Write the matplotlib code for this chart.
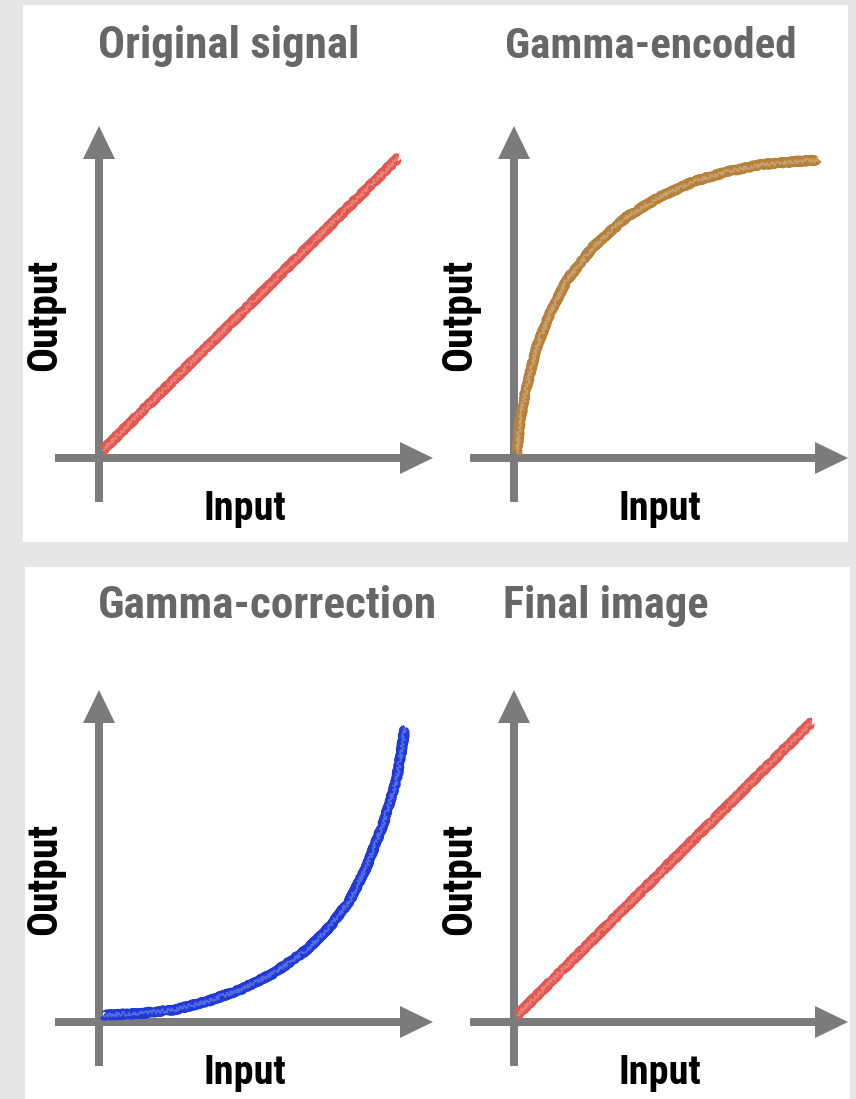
import matplotlib
matplotlib.use("Agg")
import matplotlib.pyplot as plt
from matplotlib.patches import Rectangle
from matplotlib import font_manager

# ---- data (normalised: origin at the arrow crossing, 1.0 = full scale) ----
titles = ["Original signal", "Gamma-encoded", "Gamma-correction", "Final image"]
x_label = "Input"
y_label = "Output"

original_x = [0.013, 0.997]
original_y = [0.027, 1.000]

encoded_x = [0.009, 0.020, 0.042, 0.076, 0.120, 0.176, 0.264, 0.376,
             0.487, 0.598, 0.709, 0.820, 0.931, 1.014]
encoded_y = [0.016, 0.127, 0.238, 0.371, 0.482, 0.593, 0.704, 0.804,
             0.871, 0.921, 0.954, 0.977, 0.988, 0.993]

correction_x = [0.014, 0.137, 0.248, 0.359, 0.470, 0.581, 0.692, 0.770,
                0.837, 0.892, 0.948, 0.992, 1.020]
correction_y = [0.023, 0.029, 0.040, 0.068, 0.107, 0.162, 0.240, 0.318,
                0.407, 0.518, 0.662, 0.807, 0.979]

final_x = [0.010, 0.993]
final_y = [0.023, 1.000]

series = [(original_x, original_y, "#e2574f"),
          (encoded_x, encoded_y, "#b5813c"),
          (correction_x, correction_y, "#1f3ad6"),
          (final_x, final_y, "#e2574f")]

# ---- layout (pixels) ----
W, H = 856, 1099
DPI = 100
UNIT = 300.0                      # pixels per data unit
origins = [(99, 458), (514, 458), (99, 1022), (514, 1022)]
# title: left edge, baseline, target width
title_box = [(98, 58, 262), (505, 58, 292), (98, 618, 339), (503, 618, 205)]

BG = "#e6e6e6"
ARROW = "#7b7b7b"
TITLE_C = "#676767"

# prefer a narrow face when one is installed
installed = {(f.name, f.stretch) for f in font_manager.fontManager.ttflist}
names = {n for n, _ in installed}
FONT = ["DejaVu Sans"]
STRETCH = "normal"
for cand in ["Liberation Sans Narrow", "Roboto Condensed", "Open Sans Condensed",
             "Noto Sans Condensed", "DejaVu Sans Condensed"]:
    if cand in names:
        FONT = [cand, "DejaVu Sans"]
        break
else:
    if any(n == "DejaVu Sans" and s in ("condensed", "semi-condensed", 600, 500)
           for n, s in installed):
        STRETCH = "condensed"

fig = plt.figure(figsize=(W / DPI, H / DPI), dpi=DPI, facecolor=BG)
renderer = fig.canvas.get_renderer()


def fx(px):
    return px / W


def fy(py):
    return 1 - py / H


def fitted_text(x, y, s, target_w, max_pt, **kw):
    """Place text, shrinking it so its width does not exceed target_w pixels."""
    t = fig.text(x, y, s, fontsize=max_pt, family=FONT, fontstretch=STRETCH,
                 fontweight="bold", **kw)
    bb = t.get_window_extent(renderer)
    w = bb.height if kw.get("rotation") == 90 else bb.width
    if w > target_w:
        t.set_fontsize(max_pt * target_w / w)
    return t


# white card behind each row of charts
for (x0, y0, x1, y1) in [(23, 5, 848, 542), (25, 567, 850, H + 2)]:
    fig.add_artist(Rectangle((fx(x0), fy(y1)), fx(x1 - x0), (y1 - y0) / H,
                             transform=fig.transFigure, facecolor="white",
                             edgecolor="none", zorder=-10))

pad_l, pad_r = 60, 340
for (ox, oy), (xs, ys, col), title, (tx, ty, tw) in zip(origins, series, titles, title_box):
    ax = fig.add_axes([fx(ox - pad_l), fy(oy + pad_l),
                       (pad_l + pad_r) / W, (pad_l + pad_r) / H])
    ax.set_xlim(-pad_l / UNIT, pad_r / UNIT)
    ax.set_ylim(-pad_l / UNIT, pad_r / UNIT)
    ax.axis("off")

    # axes drawn as thick arrows
    shaft, hw, hl = 8 / UNIT, 32 / UNIT, 33 / UNIT
    ax.arrow(-44 / UNIT, 0, (44 + 334) / UNIT, 0, width=shaft, head_width=hw,
             head_length=hl, length_includes_head=True, color=ARROW, lw=0, zorder=1)
    ax.arrow(0, -44 / UNIT, 0, (44 + 332) / UNIT, width=shaft, head_width=hw,
             head_length=hl, length_includes_head=True, color=ARROW, lw=0, zorder=1)

    # crayon-like stroke: rough base pass plus a lighter grainy pass
    base, = ax.plot(xs, ys, color=col, lw=6.6, solid_capstyle="butt", zorder=3)
    base.set_sketch_params(1.3, 3, 2)
    grain, = ax.plot(xs, ys, color="white", lw=1.2, alpha=0.25, zorder=4)
    grain.set_sketch_params(2.0, 2, 3)

    fitted_text(fx(tx + tw / 2), fy(ty), title, tw, 38, ha="center",
                va="baseline", color=TITLE_C)
    fitted_text(fx(ox - 54), fy(oy - 143), y_label, 112, 30, ha="center",
                va="center", rotation=90, color="black")
    fitted_text(fx(ox + 146), fy(oy + 62), x_label, 86, 29, ha="center",
                va="baseline", color="black")

fig.savefig("out.png", dpi=DPI, facecolor=BG)
